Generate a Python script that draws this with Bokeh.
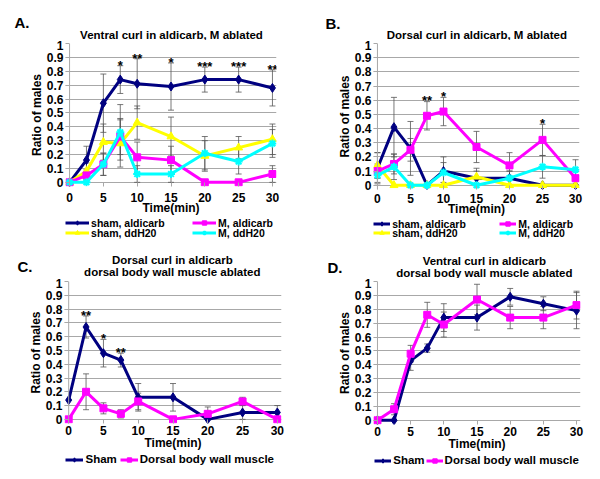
import numpy as np
from bokeh.plotting import figure
from bokeh.models import (ColumnDataSource, Whisker, TeeHead, Legend, LegendItem,
                          Label, Range1d, FixedTicker, Span, LinearAxis)
from bokeh.layouts import column, row
from bokeh.embed import file_html
from bokeh.resources import INLINE
from bokeh.core.properties import value

# ---------------- data ----------------
time_min = [0, 2.5, 5, 7.5, 10, 15, 20, 25, 30]
x_ticks = [0, 5, 10, 15, 20, 25, 30]
y_ticks = [0, 0.1, 0.2, 0.3, 0.4, 0.5, 0.6, 0.7, 0.8, 0.9, 1]
y_tick_labels = ["0", "0.1", "0.2", "0.3", "0.4", "0.5", "0.6", "0.7", "0.8", "0.9", "1"]

# Panel A: Ventral curl in aldicarb, M ablated
a_sham_ald = [0.0, 0.16, 0.57, 0.74, 0.71, 0.69, 0.74, 0.74, 0.68]
a_sham_ald_err = [0.0, 0.10, 0.21, 0.10, 0.18, 0.17, 0.09, 0.09, 0.13]
a_m_ald = [0.0, 0.05, 0.13, 0.33, 0.18, 0.16, 0.0, 0.0, 0.06]
a_m_ald_err = [0.0, 0.04, 0.08, 0.13, 0.11, 0.10, 0.0, 0.0, 0.06]
a_sham_h2o = [0.0, 0.08, 0.29, 0.28, 0.43, 0.33, 0.19, 0.25, 0.31]
a_sham_h2o_err = [0.0, 0.06, 0.13, 0.17, 0.12, 0.14, 0.11, 0.08, 0.11]
a_m_h2o = [0.0, 0.0, 0.13, 0.36, 0.06, 0.06, 0.21, 0.15, 0.28]
a_m_h2o_err = [0.0, 0.0, 0.08, 0.20, 0.06, 0.06, 0.12, 0.09, 0.10]
a_sig_x = [7.5, 10, 15, 20, 25, 30]
a_sig_text = ["*", "**", "*", "***", "***", "**"]

# Panel B: Dorsal curl in aldicarb, M ablated
b_sham_ald = [0.12, 0.41, 0.26, 0.0, 0.10, 0.05, 0.05, 0.0, 0.0]
b_sham_ald_err = [0.11, 0.21, 0.19, 0.0, 0.10, 0.05, 0.05, 0.0, 0.0]
b_m_ald = [0.10, 0.15, 0.25, 0.49, 0.52, 0.27, 0.14, 0.32, 0.05]
b_m_ald_err = [0.05, 0.07, 0.08, 0.10, 0.10, 0.11, 0.09, 0.11, 0.05]
b_sham_h2o = [0.14, 0.0, 0.0, 0.0, 0.0, 0.06, 0.0, 0.0, 0.0]
b_sham_h2o_err = [0.09, 0.0, 0.0, 0.0, 0.0, 0.06, 0.0, 0.0, 0.0]
b_m_h2o = [0.07, 0.13, 0.0, 0.0, 0.09, 0.0, 0.05, 0.13, 0.11]
b_m_h2o_err = [0.05, 0.09, 0.0, 0.0, 0.07, 0.0, 0.05, 0.08, 0.07]
b_sig_x = [7.5, 10, 25]
b_sig_text = ["**", "*", "*"]

# Panel C: Dorsal curl, dorsal body wall muscle ablated
c_sham = [0.14, 0.67, 0.48, 0.43, 0.16, 0.16, 0.0, 0.05, 0.05]
c_sham_err = [0.0, 0.08, 0.10, 0.05, 0.10, 0.10, 0.0, 0.05, 0.05]
c_dbwm = [0.0, 0.20, 0.08, 0.04, 0.13, 0.0, 0.04, 0.13, 0.0]
c_dbwm_err = [0.0, 0.13, 0.04, 0.03, 0.06, 0.0, 0.05, 0.03, 0.0]
c_sig_x = [2.5, 5, 7.5]
c_sig_text = ["**", "*", "**"]

# Panel D: Ventral curl, dorsal body wall muscle ablated
d_sham = [0.0, 0.0, 0.43, 0.52, 0.74, 0.74, 0.89, 0.84, 0.79]
d_sham_err = [0.0, 0.0, 0.07, 0.03, 0.10, 0.09, 0.06, 0.05, 0.13]
d_dbwm = [0.0, 0.08, 0.48, 0.76, 0.69, 0.87, 0.74, 0.74, 0.83]
d_dbwm_err = [0.0, 0.04, 0.06, 0.09, 0.09, 0.11, 0.08, 0.08, 0.10]
d_sig_x = []
d_sig_text = []

# ---------------- styles ----------------
FONT = "Liberation Sans"
NAVY = "#000080"
MAGENTA = "#FF00FF"
YELLOW = "#FFFF00"
CYAN = "#00FFFF"
GRID = "#a8a8a8"
ERR = "#555555"
XPAD = 0.6
YPAD = 0.03
LETTER_W = 15

STYLE = {
    "navy": dict(color=NAVY, marker="diamond", size=9, lw=1),
    "magenta": dict(color=MAGENTA, marker="square", size=7, lw=1),
    "yellow": dict(color=YELLOW, marker="triangle", size=8, lw=1),
    "cyan": dict(color=CYAN, marker="asterisk", size=8, lw=2),
}


def blank_fig(w, h, xr):
    f = figure(width=w, height=h, output_backend="svg", toolbar_location=None,
               x_range=Range1d(*xr), y_range=Range1d(0, h), min_border=0,
               x_axis_location=None, y_axis_location=None, title=None)
    f.grid.visible = False
    f.outline_line_color = None
    return f


def make_panel(spec):
    ox, oy, w, h = spec["box"]
    x0, x30, y0, y1 = spec["axes_px"]
    hdr_bottom, plot_bottom = spec["splits"]
    ppx = (x30 - x0) / 30.0
    ppy = (y0 - y1) / 1.0
    fl = x0 - XPAD * ppx
    fr = x30 + XPAD * ppx
    fb = y0 + YPAD * ppy
    ft = y1
    # frames in a column are aligned, so strip figures map page x onto [fl, fr]
    xr = (fl - ox, fr - ox)

    # ---- header: titles and panel letter ----
    hh = hdr_bottom - oy
    hp = blank_fig(w, hh, xr)
    for text, px, py in spec["titles"]:
        hp.add_layout(Label(x=px - ox, y=hdr_bottom - py, text=text, text_font=FONT,
                            text_font_style="bold", text_font_size="11.5px",
                            text_align="center", text_baseline="middle", text_color="black"))
    lx, ly = spec["letter_pos"]
    ly_d = float(hdr_bottom - ly)
    hp.add_layout(LinearAxis(ticker=FixedTicker(ticks=[ly_d], minor_ticks=[]),
                             major_label_overrides={ly_d: spec["letter"]},
                             axis_line_color=None, major_tick_line_color=None,
                             minor_tick_line_color=None, major_tick_in=0, major_tick_out=0,
                             major_label_standoff=int(round(fl - lx - LETTER_W)),
                             major_label_text_font=FONT, major_label_text_font_style="bold",
                             major_label_text_font_size="15px",
                             major_label_text_color="black"), "left")

    # ---- plot ----
    ph = plot_bottom - hdr_bottom
    p = figure(width=w, height=ph, output_backend="svg", toolbar_location=None,
               x_range=Range1d(-XPAD, 30 + XPAD), y_range=Range1d(-YPAD, 1), title=None,
               min_border_left=int(round(fl - ox)), min_border_right=int(round(ox + w - fr)),
               min_border_top=int(round(ft - hdr_bottom)),
               min_border_bottom=int(round(plot_bottom - fb)))
    p.outline_line_color = None
    p.xgrid.grid_line_color = None
    p.ygrid.ticker = FixedTicker(ticks=y_ticks)
    p.ygrid.grid_line_color = GRID

    p.xaxis.ticker = FixedTicker(ticks=x_ticks, minor_ticks=[])
    p.yaxis.ticker = FixedTicker(ticks=y_ticks, minor_ticks=[])
    p.yaxis.major_label_overrides = {t: l for t, l in zip(y_ticks, y_tick_labels)}
    for ax in (p.xaxis[0], p.yaxis[0]):
        ax.axis_line_color = None
        ax.major_tick_line_color = GRID
        ax.major_tick_in = 4
        ax.major_tick_out = 0
        ax.minor_tick_line_color = None
        ax.major_label_text_font = FONT
        ax.major_label_text_font_style = "bold"
        ax.major_label_text_font_size = "12px"
        ax.major_label_text_color = "black"
        ax.axis_label_text_font = FONT
        ax.axis_label_text_font_style = "bold"
        ax.axis_label_text_font_size = "12px"
        ax.axis_label_text_color = "black"
    p.xaxis.axis_label = "Time(min)"
    p.yaxis.axis_label = "Ratio of males"
    s1, s2 = spec["x_standoffs"]
    p.xaxis.major_label_standoff = s1
    p.xaxis.axis_label_standoff = s2
    p.yaxis.major_label_standoff = 2
    p.yaxis.axis_label_standoff = 0

    p.add_layout(Span(location=0, dimension="height", line_color=GRID, line_width=1))

    tops = np.zeros(len(time_min))
    for vals, errs, key, name in spec["series"]:
        v = np.array(vals)
        e = np.array(errs)
        tops = np.maximum(tops, v + e)
        m = e > 0
        src = ColumnDataSource(dict(x=np.array(time_min)[m], up=(v + e)[m],
                                    lo=np.clip(v - e, 0, None)[m]))
        p.add_layout(Whisker(source=src, base="x", upper="up", lower="lo", dimension="height",
                             line_color=ERR, line_width=0.8,
                             upper_head=TeeHead(size=6, line_color=ERR, line_width=0.8),
                             lower_head=TeeHead(size=6, line_color=ERR, line_width=0.8)))

    for vals, errs, key, name in spec["series"]:
        st = STYLE[key]
        src = ColumnDataSource(dict(x=time_min, y=vals))
        p.line("x", "y", source=src, line_color=st["color"], line_width=3)
        p.scatter("x", "y", source=src, marker=st["marker"], size=st["size"],
                  fill_color=st["color"], line_color=st["color"], line_width=st["lw"])

    if spec["sig_x"]:
        idx = [time_min.index(t) for t in spec["sig_x"]]
        sig_src = ColumnDataSource(dict(x=spec["sig_x"], y=[tops[i] + 0.005 for i in idx],
                                        t=spec["sig_text"]))
        p.text("x", "y", text="t", source=sig_src, text_align="center",
               text_baseline="alphabetic", text_font=value(FONT), text_font_style="bold",
               text_font_size="13px", text_color="black")

    # ---- legend strip ----
    lh = oy + h - plot_bottom
    lp = blank_fig(w, lh, xr)
    items = {}
    for vals, errs, key, name in spec["series"]:
        st = STYLE[key]
        dsrc = ColumnDataSource(dict(x=[np.nan], y=[np.nan]))
        lr = lp.line("x", "y", source=dsrc, line_color=st["color"], line_width=3)
        sr = lp.scatter("x", "y", source=dsrc, marker=st["marker"], size=st["size"],
                        fill_color=st["color"], line_color=st["color"], line_width=st["lw"])
        items[name] = [lr, sr]
    fpx = spec["legend_font_px"]
    row_h = max(11.0, 1.12 * fpx)
    for names, ry in spec["legend_rows"]:
        lg = Legend(items=[LegendItem(label=n, renderers=items[n]) for n in names],
                    orientation="horizontal",
                    location=(max(0.0, spec["legend_x"] - fl), (oy + h - ry) - row_h / 2),
                    padding=0, margin=0, spacing=spec["legend_spacing"],
                    glyph_width=spec["legend_glyph"], glyph_height=11, label_height=11,
                    label_width=spec["legend_label_width"], label_standoff=2,
                    label_text_font=FONT, label_text_font_style="bold",
                    label_text_font_size=f"{fpx}px", label_text_color="black",
                    border_line_color=None, background_fill_alpha=0)
        lp.add_layout(lg)
    return column(hp, p, lp, spacing=0)


spec_a = dict(box=(0, 0, 300, 239), axes_px=(69, 272, 183.3, 43.3), splits=(40, 217),
              x_standoffs=(6, -4),
              series=[(a_sham_ald, a_sham_ald_err, "navy", "sham, aldicarb"),
                      (a_sham_h2o, a_sham_h2o_err, "yellow", "sham, ddH20"),
                      (a_m_ald, a_m_ald_err, "magenta", "M, aldicarb"),
                      (a_m_h2o, a_m_h2o_err, "cyan", "M, ddH20")],
              sig_x=a_sig_x, sig_text=a_sig_text,
              titles=[("Ventral curl in aldicarb, M ablated", 171, 34.3)],
              letter="A.", letter_pos=(14, 22),
              legend_glyph=24, legend_x=65, legend_spacing=4, legend_label_width=97,
              legend_font_px=10.5,
              legend_rows=[(["sham, aldicarb", "M, aldicarb"], 223.0),
                           (["sham, ddH20", "M, ddH20"], 233.0)])
spec_b = dict(box=(300, 0, 292, 239), axes_px=(376.7, 575.3, 186, 43.3), splits=(40, 218),
              x_standoffs=(4, -4),
              series=[(b_sham_ald, b_sham_ald_err, "navy", "sham, aldicarb"),
                      (b_sham_h2o, b_sham_h2o_err, "yellow", "sham, ddH20"),
                      (b_m_ald, b_m_ald_err, "magenta", "M, aldicarb"),
                      (b_m_h2o, b_m_h2o_err, "cyan", "M, ddH20")],
              sig_x=b_sig_x, sig_text=b_sig_text,
              titles=[("Dorsal curl in aldicarb, M ablated", 476.3, 34.3)],
              letter="B.", letter_pos=(325, 22.7),
              legend_glyph=17, legend_x=373, legend_spacing=4, legend_label_width=103,
              legend_font_px=10.5,
              legend_rows=[(["sham, aldicarb", "M, aldicarb"], 224.0),
                           (["sham, ddH20", "M, ddH20"], 233.0)])
spec_c = dict(box=(0, 239, 300, 232), axes_px=(67.7, 276.7, 420, 281), splits=(278, 452),
              x_standoffs=(2, -2),
              series=[(c_sham, c_sham_err, "navy", "Sham"),
                      (c_dbwm, c_dbwm_err, "magenta", "Dorsal body wall muscle")],
              sig_x=c_sig_x, sig_text=c_sig_text,
              titles=[("Dorsal curl in aldicarb", 171.5, 259),
                      ("dorsal body wall muscle ablated", 171.5, 271)],
              letter="C.", letter_pos=(17, 265.7),
              legend_glyph=18, legend_x=65, legend_spacing=3, legend_label_width=0,
              legend_font_px=11.5,
              legend_rows=[(["Sham", "Dorsal body wall muscle"], 459)])
spec_d = dict(box=(300, 239, 292, 232), axes_px=(376.7, 576, 421, 281), splits=(278, 453),
              x_standoffs=(2, -2),
              series=[(d_sham, d_sham_err, "navy", "Sham"),
                      (d_dbwm, d_dbwm_err, "magenta", "Dorsal body wall muscle")],
              sig_x=d_sig_x, sig_text=d_sig_text,
              titles=[("Ventral curl in aldicarb", 483.7, 260),
                      ("dorsal body wall muscle ablated", 483.7, 272)],
              letter="D.", letter_pos=(326.7, 266.7),
              legend_glyph=17, legend_x=374, legend_spacing=1, legend_label_width=0,
              legend_font_px=11.5,
              legend_rows=[(["Sham", "Dorsal body wall muscle"], 459.6)])

pa = make_panel(spec_a)
pb = make_panel(spec_b)
pc = make_panel(spec_c)
pd_ = make_panel(spec_d)

layout = column(row(pa, pb, spacing=0), row(pc, pd_, spacing=0), spacing=0)
open("out.html", "w").write(file_html(layout, INLINE))
